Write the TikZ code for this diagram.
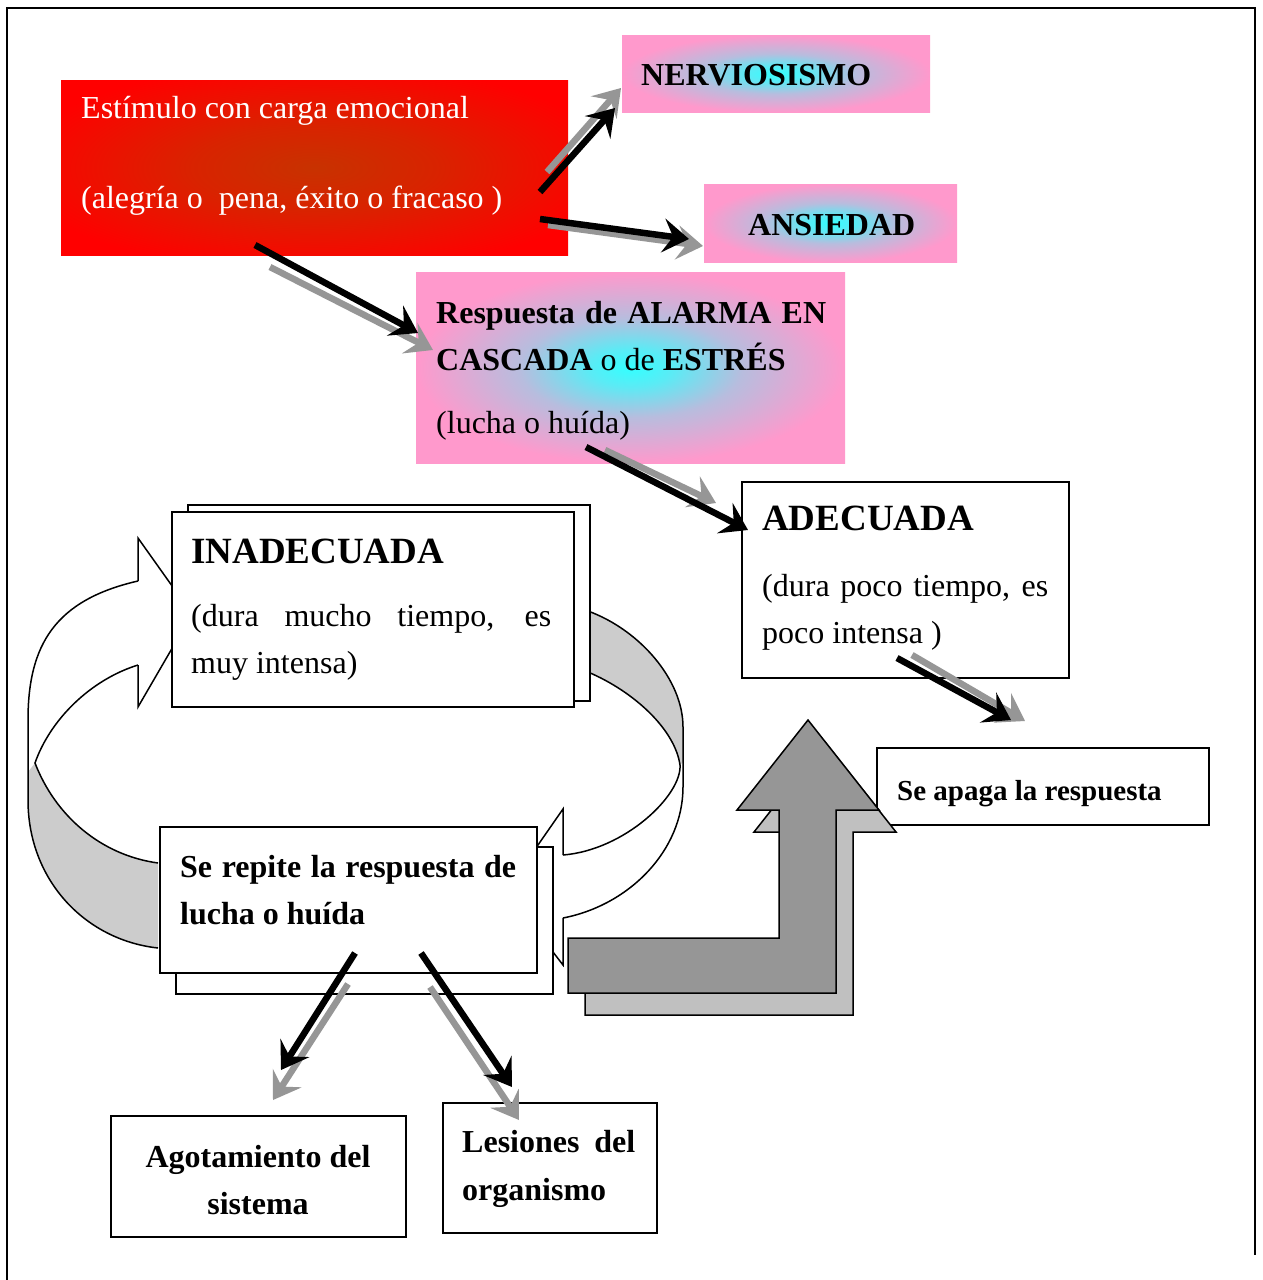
\documentclass[tikz,border=0pt]{standalone}
\usepackage{fontspec}
\setmainfont{Liberation Serif}
\usetikzlibrary{arrows.meta,calc}
\definecolor{pinkc}{HTML}{FF99CC}
\definecolor{cyanc}{HTML}{33FFFF}
\definecolor{redc}{HTML}{FF0000}
\definecolor{brownc}{HTML}{C83200}
\definecolor{arrgray}{HTML}{969696}
\definecolor{shadgray}{HTML}{C0C0C0}
\definecolor{loopgray}{HTML}{CCCCCC}
\pgfdeclareradialshading{pinkcyan}{\pgfpoint{0bp}{0bp}}{color(0bp)=(cyanc); color(5bp)=(cyanc!80!pinkc); color(13bp)=(cyanc!35!pinkc); color(25bp)=(pinkc); color(50bp)=(pinkc)}
\pgfdeclareradialshading{redshade}{\pgfpoint{0bp}{0bp}}{color(0bp)=(brownc); color(12bp)=(brownc!70!redc); color(30bp)=(redc); color(50bp)=(redc)}
\begin{document}
\begin{tikzpicture}[x=1pt,y=-1pt,
  box/.style={draw=black, line width=1.6pt, fill=white, inner sep=0pt, anchor=north west, rectangle},
  pinkbox/.style={draw=none, shade, shading=pinkcyan, inner sep=0pt, anchor=north west, rectangle},
  txt/.style={font=\fontsize{32}{38}\selectfont, inner sep=0pt, anchor=base west},
  btxt/.style={font=\fontsize{32}{38}\selectfont\bfseries, inner sep=0pt, anchor=base west},
  htxt/.style={font=\fontsize{37}{44}\selectfont\bfseries, inner sep=0pt, anchor=base west},
  wtxt/.style={txt, text=white},
  loopline/.style={draw=black, line width=1.5pt, line join=miter},
  blkarr/.style={draw=black, line width=6.5pt, -{Stealth[length=26pt,width=34pt,inset=10pt]}},
  gryarr/.style={draw=arrgray, line width=6.5pt, -{Stealth[length=26pt,width=34pt,inset=10pt]}}
]
\useasboundingbox (0,0) rectangle (1262,1280);
\fill[white] (0,0) rectangle (1262,1280);
% frame
\draw[line width=2pt] (7,1280) -- (7,8) -- (1255,8) -- (1255,1255);

% circular loop (behind the boxes)
\fill[loopgray] (35,763) .. controls (55,815) and (100,855) .. (158,863) -- (158,948) .. controls (85,940) and (28,880) .. (28,800) -- (28,772) -- cycle;
\fill[loopgray] (588,611) .. controls (640,630) and (683,680) .. (683,727) -- (683,762) -- (680,765) .. controls (675,730) and (635,692) .. (588,672) -- cycle;
\draw[loopline] (138,581) .. controls (55,600) and (28,645) .. (28,720) -- (28,800) .. controls (28,880) and (85,940) .. (158,948);
\draw[loopline] (138,665) .. controls (90,680) and (50,720) .. (35,763) .. controls (55,815) and (100,855) .. (158,863);
\draw[loopline] (138,581) -- (138,538) -- (192,614) -- (138,707) -- (138,665);
\draw[loopline] (588,611) .. controls (640,630) and (683,680) .. (683,727) -- (683,787) .. controls (683,850) and (630,905) .. (563,918);
\draw[loopline] (588,672) .. controls (635,692) and (675,730) .. (680,765) .. controls (682,795) and (625,850) .. (563,855);
\draw[loopline] (563,855) -- (563,809) -- (506,891) -- (563,965) -- (563,918);

% boxes
\node[shade, shading=redshade, inner sep=0pt, anchor=north west, minimum width=507pt, minimum height=175pt] (stim) at (61,80) {};
\node[pinkbox, minimum width=308pt, minimum height=77pt] (nerv) at (622,35) {};
\node[pinkbox, minimum width=253pt, minimum height=78pt] (ansi) at (704,184) {};
\node[pinkbox, minimum width=429pt, minimum height=191pt] (resp) at (416,272) {};
\node[box, minimum width=327pt, minimum height=196pt] (adec) at (741,481) {};
\node[box, minimum width=332pt, minimum height=77pt] (apaga) at (876,747) {};
\node[box, minimum width=402pt, minimum height=196pt] (inadb) at (187,504) {};
\node[box, minimum width=402pt, minimum height=195pt] (inad) at (171,511) {};
\node[box, minimum width=377pt, minimum height=147pt] (repib) at (175,846) {};
\node[box, minimum width=377pt, minimum height=146pt] (repi) at (159,826) {};
\node[box, minimum width=295pt, minimum height=121pt] (agot) at (110,1115) {};
\node[box, minimum width=214pt, minimum height=130pt] (lesi) at (442,1102) {};

% texts
\node[wtxt] (stim1) at (81,118) {Estímulo con carga emocional};
\node[wtxt] (stim2) at (81,208) {(alegría o\ \ pena, éxito o fracaso )};
\node[btxt] (nervt) at (641,85) {NERVIOSISMO};
\node[btxt] (ansit) at (748,235) {ANSIEDAD};
\node[btxt] (resp1) at (436,323) {\makebox[390pt][s]{Respuesta de ALARMA EN}};
\node[txt] (resp2) at (436,370) {\textbf{CASCADA} o de \textbf{ESTRÉS}};
\node[txt] (resp3) at (436,433) {(lucha o huída)};
\node[htxt] (adec1) at (762,530) {ADECUADA};
\node[txt] (adec2) at (762,596) {\makebox[286pt][s]{(dura poco tiempo, es}};
\node[txt] (adec3) at (762,643) {poco intensa )};
\node[btxt, font=\fontsize{29}{35}\selectfont\bfseries] (apagat) at (897,800) {Se apaga la respuesta};
\node[htxt] (inad1) at (191,563) {INADECUADA};
\node[txt] (inad2) at (191,626) {\makebox[360pt][s]{(dura mucho tiempo, es}};
\node[txt] (inad3) at (191,673) {muy intensa)};
\node[btxt] (repi1) at (180,877) {\makebox[336pt][s]{Se repite la respuesta de}};
\node[btxt] (repi2) at (180,924) {lucha o huída};
\node[btxt, anchor=base] (agot1) at (258,1167) {Agotamiento del};
\node[btxt, anchor=base] (agot2) at (258,1214) {sistema};
\node[btxt] (lesi1) at (462,1152) {\makebox[173pt][s]{Lesiones del}};
\node[btxt] (lesi2) at (462,1200) {organismo};

% big bent up arrow (shadow then front)
\draw[line width=1.5pt, fill=shadgray] (585,960) -- (796,960) -- (796,832) -- (754,832) -- (825,742) -- (896,832) -- (853,832) -- (853,1015) -- (585,1015) -- cycle;
\draw[line width=1.5pt, fill=arrgray] (568,938) -- (779,938) -- (779,810) -- (737,810) -- (808,720) -- (879,810) -- (836,810) -- (836,993) -- (568,993) -- cycle;

% connector end points
\coordinate (c1gs) at (547,172); \coordinate (c1ge) at (621,88);
\coordinate (c1bs) at (540,192); \coordinate (c1be) at (615,108);
\coordinate (c2gs) at (548,225); \coordinate (c2ge) at (703,246);
\coordinate (c2bs) at (540,219); \coordinate (c2be) at (689,239);
\coordinate (c3gs) at (270,267); \coordinate (c3ge) at (433,350);
\coordinate (c3bs) at (255,245); \coordinate (c3be) at (418,333);
\coordinate (c4gs) at (605,450); \coordinate (c4ge) at (716,503);
\coordinate (c4bs) at (586,447); \coordinate (c4be) at (748,530);
\coordinate (c5gs) at (912,655); \coordinate (c5ge) at (1025,721);
\coordinate (c5bs) at (897,658); \coordinate (c5be) at (1011,720);
\coordinate (c6gs) at (348,984); \coordinate (c6ge) at (273,1100);
\coordinate (c6bs) at (355,953); \coordinate (c6be) at (281,1070);
\coordinate (c7gs) at (430,987); \coordinate (c7ge) at (519,1120);
\coordinate (c7bs) at (421,953); \coordinate (c7be) at (512,1087);

\draw[gryarr] (c1gs) -- (c1ge); \draw[blkarr] (c1bs) -- (c1be);
\draw[gryarr] (c2gs) -- (c2ge); \draw[blkarr] (c2bs) -- (c2be);
\draw[gryarr] (c3gs) -- (c3ge); \draw[blkarr] (c3bs) -- (c3be);
\draw[gryarr] (c4gs) -- (c4ge); \draw[blkarr] (c4bs) -- (c4be);
\draw[gryarr] (c5gs) -- (c5ge); \draw[blkarr] (c5bs) -- (c5be);
\draw[gryarr] (c6gs) -- (c6ge); \draw[blkarr] (c6bs) -- (c6be);
\draw[gryarr] (c7gs) -- (c7ge); \draw[blkarr] (c7bs) -- (c7be);
\end{tikzpicture}
\end{document}
